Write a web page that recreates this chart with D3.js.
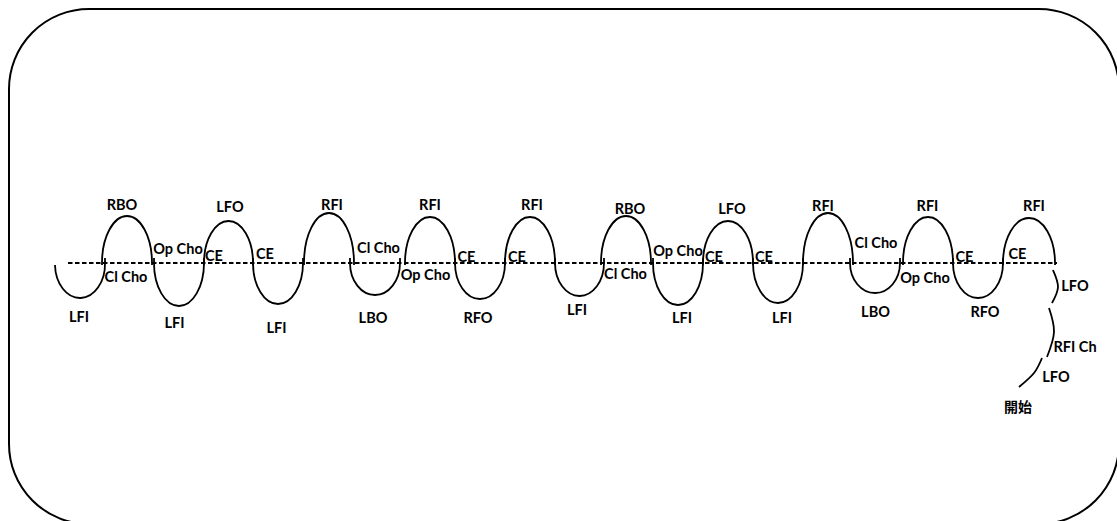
<!DOCTYPE html>
<html>
<head>
<meta charset="utf-8">
<script src="https://cdn.jsdelivr.net/npm/d3@7"></script>
<style>
  html, body { margin: 0; padding: 0; background: #fff; }
  svg { display: block; }
  .lbl { font-family: Lato, "Liberation Sans", sans-serif; font-weight: 700; font-size: 14.5px; fill: #000; }
  .cjk { font-family: "Noto Sans CJK SC", sans-serif; font-weight: 700; font-size: 14px; fill: #000; }
</style>
</head>
<body>
<div id="chart"></div>
<script>
// lobe pattern along the long axis, in lobe units (0..20), depth in units (+ = above the axis)
const lobeStart = [0, 0.94, 1.98, 2.98, 3.96, 4.98, 5.9, 7.0, 8.0, 9.0, 10.0, 10.92, 11.96, 12.96, 13.96, 14.96, 15.9, 16.96, 17.96, 18.96];
const lobeEnd   = [1.0, 1.94, 2.98, 3.96, 4.96, 5.98, 6.9, 8.0, 9.0, 10.0, 10.98, 11.92, 12.96, 13.96, 14.96, 15.96, 16.9, 17.96, 18.96, 20.0];
const lobeDepth = [-34, 47, -43, 42, -41, 50, -32, 46, -36, 46, -33, 47, -42, 42, -40, 50, -30, 46, -35, 45];

const lobeLabels = ['LFI', 'RBO', 'LFI', 'LFO', 'LFI', 'RFI', 'LBO', 'RFI', 'RFO', 'RFI',
                    'LFI', 'RBO', 'LFI', 'LFO', 'LFI', 'RFI', 'LBO', 'RFI', 'RFO', 'RFI'];
const lobeLabelX = [0.48, 1.34, 2.39, 3.5, 4.43, 5.54, 6.36, 7.5, 8.46, 9.54,
                    10.44, 11.5, 12.54, 13.54, 14.54, 15.36, 16.41, 17.45, 18.6, 19.58];
const lobeLabelY = [-54, 58, -60, 56, -65, 58, -55, 58, -55, 58,
                    -47, 54, -55, 54, -55, 57, -49, 57, -49, 57];

// transitions between lobes
const turnLabels = ['Cl Cho', 'Op Cho', 'CE', 'CE', 'Cl Cho', 'Op Cho', 'CE', 'CE',
                    'Cl Cho', 'Op Cho', 'CE', 'CE', 'Cl Cho', 'Op Cho', 'CE', 'CE'];
const turnX = [1.42, 2.46, 3.18, 4.2, 6.47, 7.41, 8.23, 9.24, 11.41, 12.46, 13.18, 14.18, 16.42, 17.4, 18.19, 19.25];
const turnY = [-14, 14, 7, 9, 15, -12, 6, 6, -11, 12, 6, 6, 20, -15, 6, 9];

// entry edges at the right end
const entryArcs = [
  [[19.96, -7], [20.06, -24], [19.94, -40]],
  [[19.88, -45], [19.98, -69], [19.84, -94]],
  [[19.74, -95], [19.58, -110], [19.28, -124]]
];
const entryLabels = ['LFO', 'RFI Ch', 'LFO', '開始'];
const entryX = [20.4, 20.4, 20.02, 19.26];
const entryY = [-23, -84, -114, -144];

const axisExtent = [0.26, 20.04];

const W = 1117, H = 521;
const svg = d3.select('#chart').append('svg')
  .attr('width', W)
  .attr('height', H);

const x = d3.scaleLinear().domain([0, 20]).range([55, 1055]);
const y = d3.scaleLinear().domain([-100, 100]).range([363, 163]);

// rink outline
svg.append('rect')
  .attr('x', 9).attr('y', 9)
  .attr('width', 1110).attr('height', 515)
  .attr('rx', 80).attr('ry', 80)
  .attr('fill', 'none')
  .attr('stroke', '#000')
  .attr('stroke-width', 2);

// long axis
svg.append('line')
  .attr('x1', x(axisExtent[0])).attr('x2', x(axisExtent[1]))
  .attr('y1', y(0)).attr('y2', y(0))
  .attr('stroke', '#000')
  .attr('stroke-width', 2)
  .attr('stroke-dasharray', '4.5,2.5');

const lobes = lobeStart.map((s, i) => ({ s, e: lobeEnd[i], d: lobeDepth[i], i }));

function lobePath(l) {
  const x0 = x(l.s), x1 = x(l.e);
  const y0 = y(0);
  const ov = l.d < 0 ? y(5) : y(-2);
  const rx = (x1 - x0) / 2;
  const ry = Math.abs(y(l.d) - y0);
  const sweep = l.d > 0 ? 1 : 0;
  // the first lobe starts just under the axis
  const start = l.i === 0 ? `M${x0},${y(-2)}` : `M${x0},${ov}L${x0},${y0}`;
  return `${start}A${rx},${ry} 0 0 ${sweep} ${x1},${y0}L${x1},${ov}`;
}

svg.selectAll('.lobe')
  .data(lobes)
  .enter().append('path')
  .attr('class', 'lobe')
  .attr('d', lobePath)
  .attr('fill', 'none')
  .attr('stroke', '#000')
  .attr('stroke-width', 1.8);

const curve = d3.line()
  .x(d => x(d[0]))
  .y(d => y(d[1]))
  .curve(d3.curveNatural);

svg.selectAll('.entry')
  .data(entryArcs)
  .enter().append('path')
  .attr('class', 'entry')
  .attr('d', curve)
  .attr('fill', 'none')
  .attr('stroke', '#000')
  .attr('stroke-width', 1.8);

function addLabels(texts, xs, ys, cls) {
  svg.selectAll('.' + cls + '-t')
    .data(texts.map((t, i) => ({ t, x: xs[i], y: ys[i] })))
    .enter().append('text')
    .attr('class', d => /[\u4e00-\u9fff]/.test(d.t) ? 'cjk' : 'lbl')
    .attr('x', d => x(d.x))
    .attr('y', d => y(d.y))
    .attr('dy', '0.36em')
    .attr('text-anchor', 'middle')
    .text(d => d.t);
}

addLabels(lobeLabels, lobeLabelX, lobeLabelY, 'lobe');
addLabels(turnLabels, turnX, turnY, 'turn');
addLabels(entryLabels, entryX, entryY, 'entry');
</script>
</body>
</html>
